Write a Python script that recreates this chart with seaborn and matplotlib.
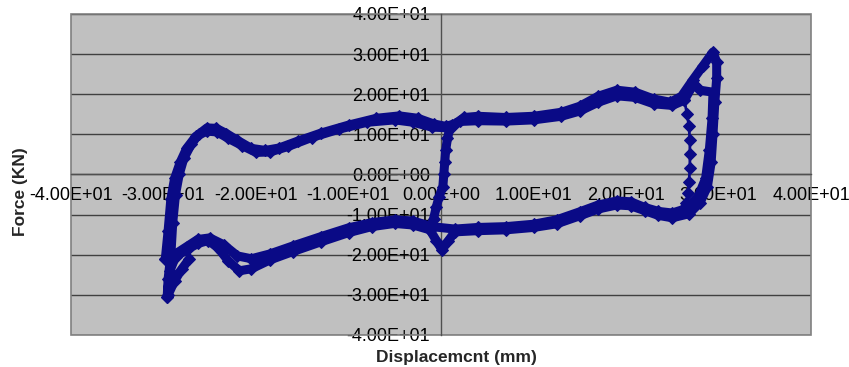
import numpy as np
import pandas as pd
import matplotlib
matplotlib.use("Agg")
import matplotlib.pyplot as plt
from matplotlib.patches import Rectangle
from matplotlib.ticker import FuncFormatter, MultipleLocator
import seaborn as sns

# Hysteresis loop (displacement mm, force kN)
# outer cycle
cycle1_disp = [-29.6, -29.5, -29.2, -29.0, -28.7, -28.3, -27.8, -27.0, -26.2, -25.3, -24.3, -23.2,
               -22.0, -20.5, -19.0, -17.5, -15.5, -13.0, -10.0, -7.0, -4.5, -2.5, -0.8, 0.5, 1.5,
               2.5, 4.0, 7.0, 10.0, 13.0, 15.0, 17.0, 19.0, 21.0, 23.0, 24.8, 26.0, 27.2, 28.3,
               29.4, 29.8, 29.8, 29.6, 29.4, 29.2, 28.8, 28.0, 26.8, 25.0, 23.5, 22.0, 20.5, 19.0,
               17.0, 15.0, 12.5, 10.0, 7.0, 4.0, 1.5, 0.8, 0.1, -0.5, -1.2, -3.0, -5.0, -7.5,
               -10.0, -13.0, -16.0, -18.5, -20.5, -21.8, -23.0, -24.2, -25.2, -26.3, -27.5, -28.7,
               -29.3, -29.6]
cycle1_force = [-30.5, -26.0, -20.0, -12.0, -5.0, 0.0, 4.0, 7.5, 10.0, 11.6, 11.5, 10.2,
                8.5, 6.5, 6.0, 6.6, 8.3, 10.3, 12.3, 14.0, 14.6, 14.0, 12.6, 12.0, 12.6,
                14.2, 14.5, 14.2, 14.5, 15.5, 17.0, 19.5, 21.0, 20.5, 18.8, 18.0, 19.5, 23.5, 27.0,
                30.5, 28.0, 24.0, 18.0, 10.0, 3.0, -3.0, -7.0, -9.8, -10.8, -10.2, -9.0, -7.8, -7.6,
                -8.6, -10.3, -12.3, -13.2, -13.8, -14.0, -14.3, -16.5, -18.8, -16.5, -13.8, -12.6, -12.2, -13.0,
                -14.5, -16.8, -19.2, -21.3, -23.5, -24.0, -21.5, -18.0, -16.5, -17.2, -18.8, -20.5,
                -24.0, -30.5]

# inner cycle
cycle2_disp = [-29.8, -29.5, -29.2, -28.8, -28.2, -27.5, -26.5, -25.3, -24.2, -23.0, -21.5, -20.0,
               -18.5, -16.5, -14.0, -11.0, -8.0, -5.0, -3.0, -1.0, 1.0, 2.0, 4.0, 7.0, 10.0,
               13.0, 15.0, 17.0, 19.0, 21.0, 23.0, 25.0, 26.3, 27.3, 28.0, 29.4, 29.3, 29.0,
               28.6, 27.8, 26.5, 25.0, 23.5, 22.0, 20.5, 19.0, 17.0, 15.0, 12.5, 10.0, 7.0, 4.0,
               1.5, -1.0, -3.0, -5.0, -7.5, -10.0, -13.0, -16.0, -18.5, -20.5, -22.0, -23.5,
               -25.0, -26.3, -27.5, -28.7, -29.8]
cycle2_force = [-21.0, -14.0, -6.0, -1.0, 3.0, 6.5, 9.5, 10.8, 10.6, 9.0, 7.2, 5.5,
                5.6, 7.0, 9.2, 11.3, 13.0, 13.6, 13.0, 11.8, 11.6, 13.2, 13.4, 13.3, 13.6,
                14.5, 15.8, 18.0, 19.6, 19.2, 17.6, 17.2, 18.5, 22.5, 21.0, 20.5, 14.0, 6.0,
                -1.0, -5.5, -8.5, -9.6, -9.2, -8.2, -6.8, -6.6, -7.6, -9.3, -11.3, -12.4, -13.0, -13.2,
                -13.6, -13.0, -11.6, -11.3, -12.0, -13.3, -15.5, -17.8, -19.8, -21.0, -20.3, -17.5,
                -15.8, -16.2, -18.0, -19.8, -21.0]

# slip branch near zero displacement
slip_disp = [-1.2, -0.8, -0.5, -0.2, 0.2, 0.3, 0.4, 0.5, 0.7, 0.9, 1.2]
slip_force = [-13.8, -11.0, -8.0, -5.5, -3.0, 0.0, 3.0, 6.0, 9.0, 11.0, 12.3]

# fast unloading branch on the right
unload_disp = [26.3, 26.6, 26.8, 26.9, 26.9, 26.9, 26.8, 26.7, 26.5, 26.2, 25.8]
unload_force = [18.5, 15.0, 12.0, 8.5, 5.0, 1.5, -2.0, -4.5, -7.0, -8.5, -9.5]
# small lower-left inner branch
inner_disp = [-29.5, -28.8, -28.0, -27.2]
inner_force = [-30.0, -26.5, -23.5, -21.0]

x_ticks = [-40, -30, -20, -10, 0, 10, 20, 30, 40]
y_ticks = [-40, -30, -20, -10, 0, 10, 20, 30, 40]

NAVY = "#0a0a86"

sns.set_style("white")
plt.rcParams["font.family"] = ["Liberation Sans", "DejaVu Sans"]

fig = plt.figure(figsize=(8.49, 3.67), dpi=100)
ax = fig.add_axes([0.0836, 0.0872, 0.8717, 0.8748])
ax.set_facecolor("#c0c0c0")

paths = [
    (cycle1_disp, cycle1_force),
    (cycle2_disp, cycle2_force),
    (slip_disp, slip_force),
    (inner_disp, inner_force),
]
for xs, ys in paths:
    df = pd.DataFrame({"disp": xs, "force": ys})
    sns.lineplot(data=df, x="disp", y="force", sort=False, estimator=None, ax=ax,
                 color=NAVY, linewidth=6.5, marker="D", markersize=6,
                 markeredgecolor=NAVY, zorder=3)

df_u = pd.DataFrame({"disp": unload_disp, "force": unload_force})
sns.lineplot(data=df_u, x="disp", y="force", sort=False, estimator=None, ax=ax,
             color=NAVY, linewidth=2, marker="D", markersize=6.5,
             markeredgecolor=NAVY, zorder=3)

ax.set_xlim(-40, 40)
ax.set_ylim(-40, 40)
ax.set_xticks(x_ticks)
ax.set_yticks(y_ticks)
fmt = FuncFormatter(lambda v, p: f"{v:.2E}")
ax.xaxis.set_major_formatter(fmt)
ax.yaxis.set_major_formatter(fmt)

# axes crossing at the origin, Excel style
ax.spines["left"].set_position(("data", 0))
ax.spines["bottom"].set_position(("data", 0))
ax.spines["top"].set_visible(False)
ax.spines["right"].set_visible(False)
for s in ["left", "bottom"]:
    ax.spines[s].set_color("#505050")
    ax.spines[s].set_linewidth(1.0)
ax.tick_params(axis="both", direction="out", length=5, width=1, color="#505050",
               labelsize=13, labelcolor="black", pad=3)
ax.tick_params(axis="x", pad=4)

ax.yaxis.grid(True, color="#404040", linewidth=1.0)
ax.xaxis.grid(False)
ax.set_axisbelow(True)
ax.add_patch(Rectangle((0, 0), 1, 1, transform=ax.transAxes, fill=False,
                       edgecolor="#808080", linewidth=1.2, clip_on=False, zorder=1))

ax.set_xlabel("")
ax.set_ylabel("")
fig.text(0.538, 0.027, "Displacemcnt (mm)", ha="center", va="center",
         fontsize=12.5, fontweight="bold")
fig.text(0.024, 0.477, "Force (KN)", ha="center", va="center", rotation=90,
         fontsize=12.5, fontweight="bold")

fig.savefig("out.png", dpi=100)
